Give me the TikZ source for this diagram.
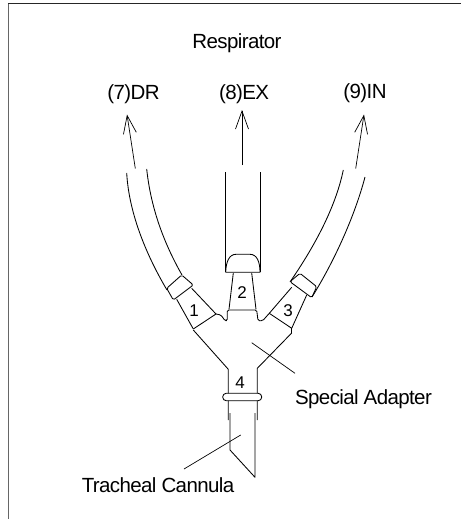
\documentclass[tikz,border=0pt]{standalone}
\usepackage{fontspec}
\setmainfont{Liberation Sans}
\usepackage{tikz}
\usetikzlibrary{arrows.meta}

\begin{document}
\begin{tikzpicture}[x=1pt, y=-1pt, line width=0.85pt, line join=round]

  \tikzset{
    labeltext/.style={inner sep=0pt, font=\fontsize{20.5}{22}\selectfont\addfontfeatures{LetterSpace=-3}},
    partnum/.style={inner sep=0pt, font=\fontsize{17}{19}\selectfont},
    flowarrow/.style={-{Straight Barb[length=18pt, width=13pt]}, line width=0.7pt},
    leaderline/.style={line width=0.7pt}
  }

  \useasboundingbox (0, 0) rectangle (461, 519);

  % frame
  \draw[line width=1pt, black!60] (8, 519) -- (8, 4);
  \draw[line width=1pt, black!85] (8, 4) -- (461, 4);

  % texts
  \node[labeltext] (respirator) at (237, 43) {Respirator};
  \node[labeltext] (dr) at (133.5, 94) {(7)DR};
  \node[labeltext] (ex) at (244, 94) {(8)EX};
  \node[labeltext] (in9) at (365, 93) {(9)IN};
  \node[labeltext] (adapter) at (363.5, 399) {Special Adapter};
  \node[labeltext] (cannula) at (158, 485) {Tracheal Cannula};
  \node[partnum] (n1) at (194, 311) {1};
  \node[partnum] (n2) at (242, 293) {2};
  \node[partnum] (n3) at (288, 311) {3};
  \node[partnum] (n4) at (240, 383) {4};

  % flow arrows
  \coordinate (drstart) at (135.3, 168.5);
  \coordinate (drend) at (127, 114.5);
  \coordinate (exstart) at (242, 165);
  \coordinate (exend) at (242, 110);
  \coordinate (instart) at (355.7, 168.5);
  \coordinate (inend) at (364, 114.5);
  \draw[flowarrow] (drstart) -- (drend);
  \draw[flowarrow] (exstart) -- (exend);
  \draw[flowarrow] (instart) -- (inend);

  % tubes
  \draw (126.7, 173) .. controls (129, 215) and (148, 258) .. (167, 290);
  \draw (146.7, 169) .. controls (151, 210) and (165, 245) .. (182, 275);
  \draw (225.7, 172) -- (225.7, 272);
  \draw (260, 172) -- (260, 272);
  \draw (343.3, 170) .. controls (335, 210) and (312, 250) .. (290, 282);
  \draw (365, 177) .. controls (355, 215) and (335, 260) .. (312, 297);

  % collars
  \draw[rounded corners=1.5pt] (166.7, 288.3) -- (181.7, 275) -- (193.3, 285)
    -- (173.3, 300) -- cycle;
  \draw[rounded corners=1.5pt] (290, 281.7) -- (300, 273.3) -- (316.7, 286.7)
    -- (311.7, 297.7) -- cycle;
  \draw (225.7, 272.3) .. controls (226, 262) and (229, 254.3) .. (236, 254.3)
    -- (250, 254.3) .. controls (257, 254.3) and (260, 262) .. (260, 272.3) -- cycle;

  % adapter
  \draw (176.7, 299.3) -- (193.3, 329);
  \draw (191.7, 288.3) -- (216, 314);
  \draw (193.3, 329) -- (216, 314);
  \draw (229, 309.3) -- (233.3, 273);
  \draw (256, 309.3) -- (251.7, 273);
  \draw (306.7, 295) -- (291.7, 328.3);
  \draw (291.7, 287.3) -- (269.3, 313.3);
  \draw (269.3, 313.3) -- (291.7, 328.3);
  \draw[rounded corners=1.5pt] (216, 314) -- (221, 315) -- (225, 320.7)
    -- (227.3, 320.7) -- (227.3, 310) -- (256.7, 310) -- (258, 320.7)
    -- (262.7, 320.7) -- (269.3, 313.3);
  \draw (193.3, 330) -- (228.3, 369.3) -- (228.3, 420);
  \draw (291.7, 333) -- (291.7, 328.3);
  \draw (291.7, 333) -- (257.3, 368.3) -- (257.3, 420);

  % ring
  \draw[rounded corners=3.5pt, fill=white] (222.7, 393.3) rectangle (261.7, 400.7);

  % cannula
  \draw (230, 413) -- (230, 450) -- (255, 477.3) -- (255, 413);

  % leader lines
  \coordinate (adapterend) at (251.7, 342.7);
  \coordinate (adapterfoot) at (295, 373.3);
  \coordinate (cannulaend) at (240.7, 435);
  \coordinate (cannulafoot) at (184, 469);
  \draw[leaderline] (adapterend) -- (adapterfoot);
  \draw[leaderline] (cannulaend) -- (cannulafoot);

\end{tikzpicture}
\end{document}
